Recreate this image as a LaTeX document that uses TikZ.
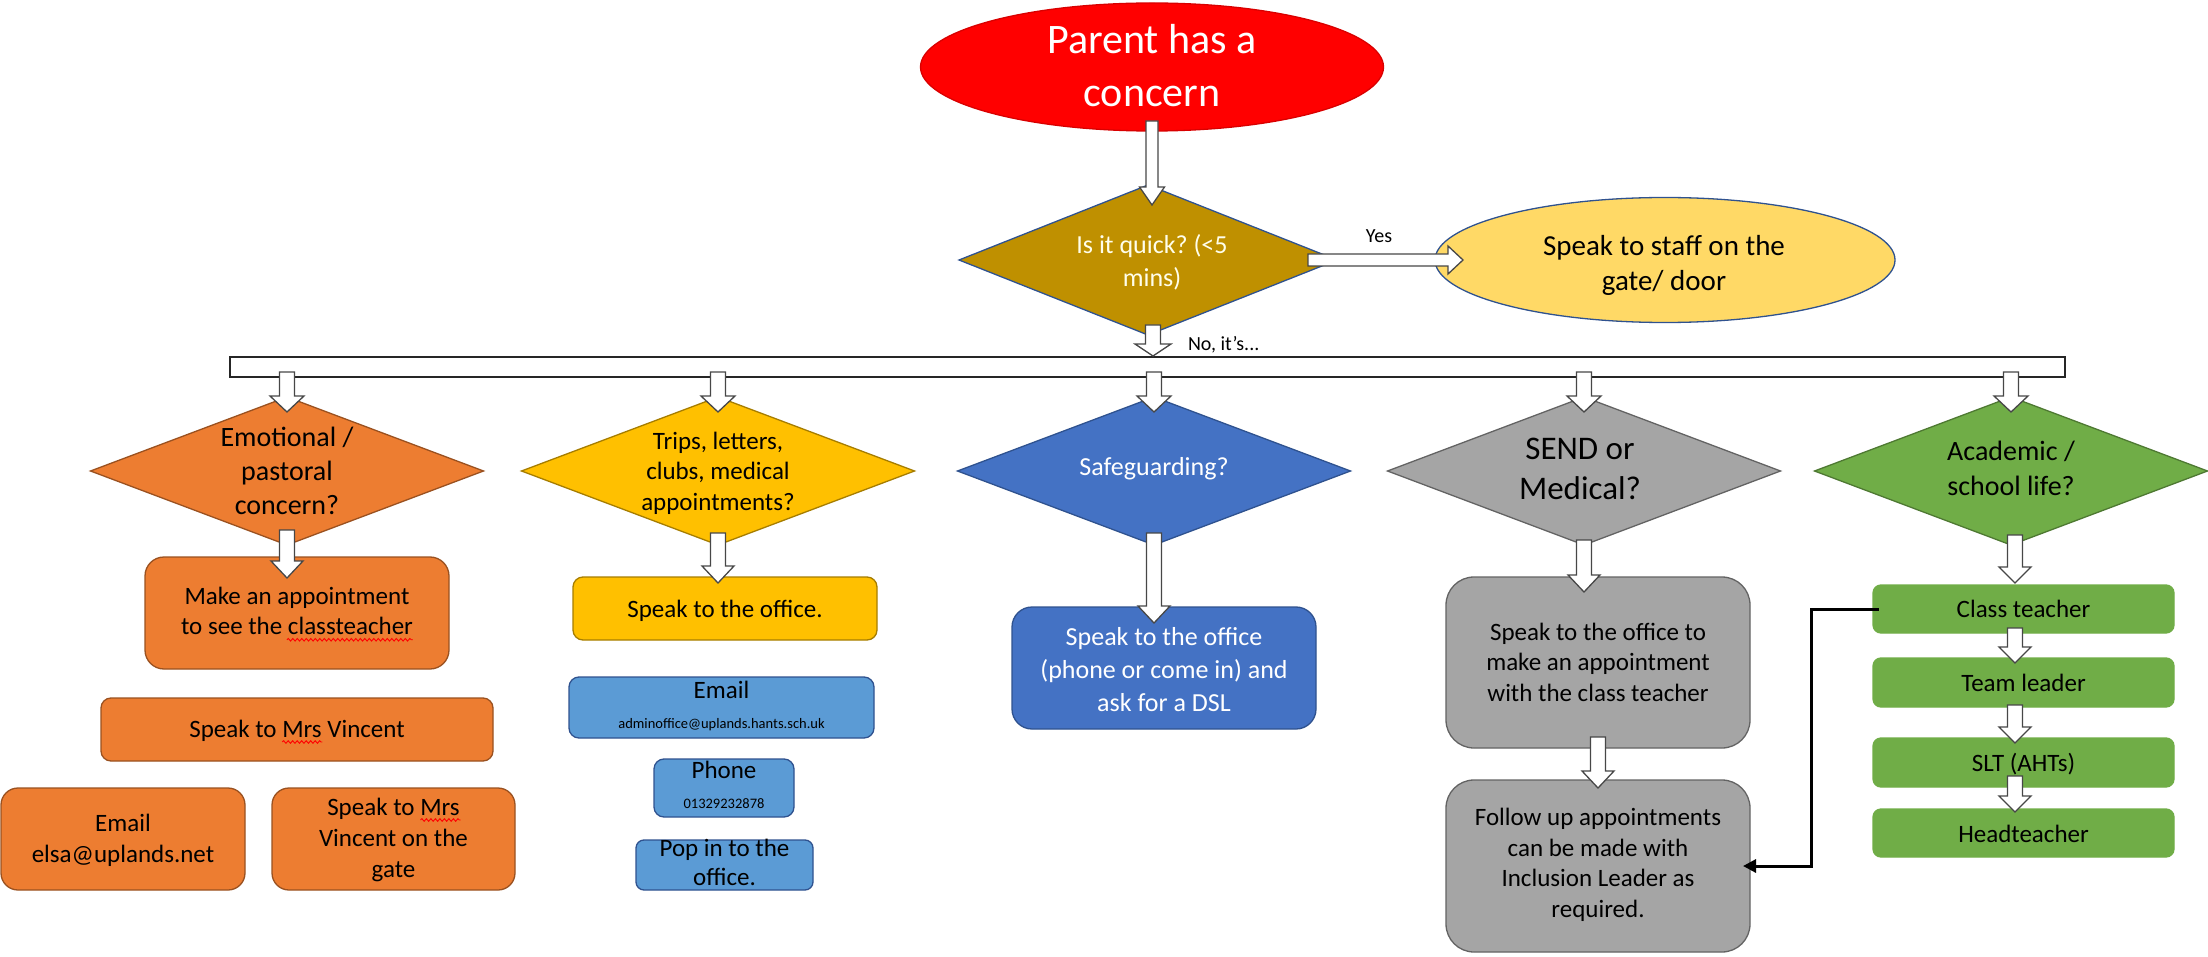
\documentclass[tikz,border=0pt]{standalone}
\usepackage{fontspec}
\setmainfont{Carlito}
\usetikzlibrary{shapes.geometric,calc,arrows.meta,decorations.pathmorphing}

\definecolor{cRed}{HTML}{FF0000}
\definecolor{cDkGold}{HTML}{BF9000}
\definecolor{cYel}{HTML}{FFD966}
\definecolor{cOrange}{HTML}{ED7D31}
\definecolor{cGold}{HTML}{FFC000}
\definecolor{cBlue}{HTML}{4472C4}
\definecolor{cGray}{HTML}{A5A5A5}
\definecolor{cGreen}{HTML}{70AD47}
\definecolor{cLBlue}{HTML}{5B9BD5}
\definecolor{cEdge}{HTML}{2F528F}

\newcommand{\fsz}[2]{\fontsize{#1}{#2}\selectfont}
\frenchspacing

% block arrows: #1 start, #2 tip, #3 half shaft, #4 half head, #5 head length
\newcommand{\blkdown}[5]{%
 \path[blk] let \p1=#1, \p2=#2 in
  (\x1-#3,\y1) -- (\x1-#3,\y2+#5) -- (\x1-#4,\y2+#5) -- (\x1,\y2) --
  (\x1+#4,\y2+#5) -- (\x1+#3,\y2+#5) -- (\x1+#3,\y1) -- cycle;}
\newcommand{\blkright}[5]{%
 \path[blk] let \p1=#1, \p2=#2 in
  (\x1,\y1+#3) -- (\x2-#5,\y1+#3) -- (\x2-#5,\y1+#4) -- (\x2,\y1) --
  (\x2-#5,\y1-#4) -- (\x2-#5,\y1-#3) -- (\x1,\y1-#3) -- cycle;}

\begin{document}
\begin{tikzpicture}[x=1pt,y=-1pt,
  every node/.style={inner sep=0pt,outer sep=0pt},
  dia/.style={diamond,draw,line width=1.3pt,minimum width=393pt,minimum height=148pt},
  ell/.style={ellipse,draw,line width=1.3pt},
  rbox/.style={rectangle,draw,line width=1.3pt,rounded corners=#1},
  txt/.style={align=center,text=black},
  blk/.style={draw=black!72,fill=white,line width=1.3pt,line join=miter},
  wave/.style={red,line width=0.9pt,decorate,decoration={snake,amplitude=1.3pt,segment length=4.5pt}},
]
\useasboundingbox (0,0) rectangle (2208,957);

% ---------- top part ----------
\node[ell,fill=cRed,draw=cRed!85!black,minimum width=463pt,minimum height=128pt] (top) at (1152,67) {};
\node[txt,text=white,font=\fsz{42}{53}] (toptxt) at (1152,66) {Parent has a\\concern};

\node[dia,fill=cDkGold,draw=cEdge,minimum width=378pt,minimum height=150pt] (q) at (1148,260) {};
\node[txt,text=white!92!yellow,font=\fsz{26}{33}] (qtxt) at (1152,262) {Is it quick? (<5\\mins)};

\node[ell,fill=cYel,draw=cEdge,minimum width=460pt,minimum height=125pt] (gate) at (1665,260) {};
\node[txt,font=\fsz{29}{35}] (gatetxt) at (1664,265) {Speak to staff on the\\gate/ door};

\node[font=\fsz{20}{24},anchor=base] (yes) at (1379,243) {Yes};
\node[font=\fsz{20}{24},anchor=base west] (no) at (1188,351) {No, it\char"27 s...};

\node[rectangle,draw=black!85,fill=white,line width=1.5pt,minimum width=1835pt,minimum height=20pt] (bar) at (1147.5,367) {};

% ---------- diamonds ----------
\node[dia,fill=cOrange,draw=cOrange!65!black] (d1) at (287,471) {};
\node[txt,font=\fsz{28}{34}] (d1t) at (287,471) {Emotional /\\pastoral\\concern?};

\node[dia,fill=cGold,draw=cGold!65!black] (d2) at (718,471) {};
\node[txt,font=\fsz{25}{30.5}] (d2t) at (718,473) {Trips, letters,\\clubs, medical\\appointments?};

\node[dia,fill=cBlue,draw=cEdge] (d3) at (1154,471) {};
\node[txt,text=white,font=\fsz{26}{32}] (d3t) at (1154,469) {Safeguarding?};

\node[dia,fill=cGray,draw=cGray!60!black] (d4) at (1584,471) {};
\node[txt,font=\fsz{33}{40}] (d4t) at (1580,469) {SEND or\\Medical?};

\node[dia,fill=cGreen,draw=cGreen!70!black] (d5) at (2011,471) {};
\node[txt,font=\fsz{28}{35}] (d5t) at (2011,468) {Academic /\\school life?};

% ---------- column 1 ----------
\node[rbox=19pt,fill=cOrange,draw=cOrange!65!black,minimum width=304pt,minimum height=112pt] (c1a) at (297,613) {};
\node[txt,font=\fsz{25}{30}] (c1at) at (297,611) {Make an appointment\\to see the classteacher};
\node[rbox=10pt,fill=cOrange,draw=cOrange!65!black,minimum width=392pt,minimum height=63pt] (c1b) at (297,729.5) {};
\node[txt,font=\fsz{25}{30},anchor=base] (c1bt) at (297,737) {Speak to Mrs Vincent};
\node[rbox=17pt,fill=cOrange,draw=cOrange!65!black,minimum width=244pt,minimum height=102pt] (c1c) at (123,839) {};
\node[txt,font=\fsz{25}{31}] (c1ct) at (123,840) {Email\\elsa@uplands.net};
\node[rbox=17pt,fill=cOrange,draw=cOrange!65!black,minimum width=243pt,minimum height=102pt] (c1d) at (393.5,839) {};
\node[txt,font=\fsz{25}{31}] (c1dt) at (393.5,840) {Speak to Mrs\\Vincent on the\\gate};

% ---------- column 2 ----------
\node[rbox=10pt,fill=cGold,draw=cGold!65!black,minimum width=304pt,minimum height=63pt] (c2a) at (725,608.5) {};
\node[txt,font=\fsz{25}{30},anchor=base] (c2at) at (725,617) {Speak to the office.};
\node[rbox=10pt,fill=cLBlue,draw=cEdge,minimum width=305pt,minimum height=61pt] (c2b) at (721.5,707.5) {};
\node[txt,font=\fsz{25}{30},anchor=base] (c2bt) at (721.5,698) {Email};
\node[txt,font=\fsz{14.5}{18},anchor=base] (c2bs) at (721.5,728) {adminoffice@uplands.hants.sch.uk};
\node[rbox=10pt,fill=cLBlue,draw=cEdge,minimum width=140pt,minimum height=58pt] (c2c) at (724,788) {};
\node[txt,font=\fsz{25}{30},anchor=base] (c2ct) at (724,778) {Phone};
\node[txt,font=\fsz{14.5}{18},anchor=base] (c2cs) at (724,808) {01329232878};
\node[rbox=8pt,fill=cLBlue,draw=cEdge,minimum width=177pt,minimum height=50pt] (c2d) at (724.5,865) {};
\node[txt,font=\fsz{25}{29}] (c2dt) at (724.5,862) {Pop in to the\\office.};

% ---------- column 3 ----------
\node[rbox=20pt,fill=cBlue,draw=cEdge,minimum width=304pt,minimum height=122pt] (c3) at (1164,668) {};
\node[txt,text=white,font=\fsz{26}{33}] (c3t) at (1164,670) {Speak to the office\\(phone or come in) and\\ask for a DSL};

% ---------- column 4 ----------
\node[rbox=28pt,fill=cGray,draw=cGray!60!black,minimum width=304pt,minimum height=171pt] (c4a) at (1598,662.5) {};
\node[txt,font=\fsz{25}{30.5}] (c4at) at (1598,662) {Speak to the office to\\make an appointment\\with the class teacher};
\node[rbox=28pt,fill=cGray,draw=cGray!60!black,minimum width=304pt,minimum height=172pt] (c4b) at (1598,866) {};
\node[txt,font=\fsz{25}{30.5}] (c4bt) at (1598,865) {Follow up appointments\\can be made with\\Inclusion Leader as\\required.};

% ---------- column 5 ----------
\node[rbox=8pt,fill=cGreen,draw=cGreen,minimum width=301pt,minimum height=48pt] (g1) at (2023.5,609) {};
\node[txt,font=\fsz{25}{30},anchor=base] (g1t) at (2023.5,617) {Class teacher};
\node[rbox=8pt,fill=cGreen,draw=cGreen,minimum width=301pt,minimum height=49pt] (g2) at (2023.5,682.5) {};
\node[txt,font=\fsz{25}{30},anchor=base] (g2t) at (2023.5,691) {Team leader};
\node[rbox=8pt,fill=cGreen,draw=cGreen,minimum width=301pt,minimum height=49pt] (g3) at (2023.5,762.5) {};
\node[txt,font=\fsz{25}{30},anchor=base] (g3t) at (2023.5,771) {SLT (AHTs)};
\node[rbox=8pt,fill=cGreen,draw=cGreen,minimum width=301pt,minimum height=48pt] (g4) at (2023.5,833) {};
\node[txt,font=\fsz{25}{30},anchor=base] (g4t) at (2023.5,842) {Headteacher};

% ---------- spelling squiggles ----------
\draw[wave] ($(c1at.south east)+(-126,5)$) -- ($(c1at.south east)+(0,5)$);
\draw[wave] ($(c1bt.base west)+(93,5)$) -- ($(c1bt.base west)+(133,5)$);
\draw[wave] ($(c1d.center)+(27,-19)$) -- ($(c1d.center)+(67,-19)$);

% ---------- block arrows ----------
\blkdown{($(top.south)+(0,-10)$)}{($(q.north)+(0,20)$)}{6pt}{12.5pt}{18pt}
\blkright{($(q.east)+(-29,0)$)}{($(gate.west)+(28,0)$)}{6pt}{14pt}{15pt}
\blkdown{($(q.south)+(5,-10)$)}{($(bar.north)+(0,-1)$)}{7.5pt}{18pt}{12pt}

\foreach \d in {d1,d2,d3,d4,d5}{
  \blkdown{($(bar.south -| \d.north)+(0,-5)$)}{($(\d.north)+(0,15)$)}{7.5pt}{17pt}{16pt}
}
\blkdown{($(d1.south)+(0,-15)$)}{($(c1a.north)+(0,21)$)}{7.5pt}{16pt}{17pt}
\blkdown{($(d2.south)+(0,-12)$)}{($(c2a.north)+(0,6)$)}{7.5pt}{16pt}{17pt}
\blkdown{($(d3.south)+(0,-12)$)}{($(c3.north)+(0,16)$)}{7.5pt}{16pt}{17pt}
\blkdown{($(d4.south)+(0,-5)$)}{($(c4a.north)+(0,15)$)}{7.5pt}{16pt}{17pt}
\blkdown{($(c4a.south)+(0,-11)$)}{($(c4b.north)+(0,8)$)}{7.5pt}{16pt}{17pt}
\blkdown{($(d5.south)+(4,-10)$)}{($(g1.north)+(0,-2)$)}{7.5pt}{16pt}{16pt}
\blkdown{($(g1.south -| d5.south)+(4,-5)$)}{($(g2.north)+(0,5)$)}{7.5pt}{16pt}{16pt}
\blkdown{($(g2.south -| d5.south)+(4,-2)$)}{($(g3.north)+(0,5)$)}{7.5pt}{16pt}{16pt}
\blkdown{($(g3.south -| d5.south)+(4,-11)$)}{($(g4.north)+(0,3)$)}{7.5pt}{16pt}{16pt}

% ---------- black connector ----------
\coordinate (turn) at ($(g1.west)+(-62,0)$);
\draw[line width=3pt,-{Triangle[length=13pt,width=13pt]}] ($(g1.west)+(6,0)$) -- (turn) |- ($(c4b.east)+(-7,0)$);
\end{tikzpicture}
\end{document}
